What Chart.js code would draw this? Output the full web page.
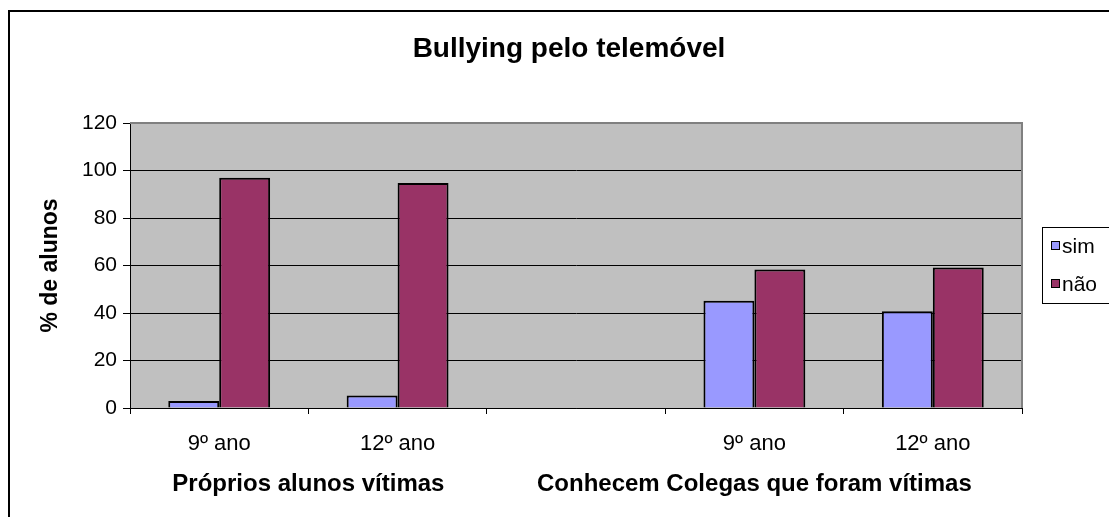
<!DOCTYPE html>
<html>
<head>
<meta charset="utf-8">
<script src="https://cdn.jsdelivr.net/npm/chart.js@4.4.0/dist/chart.umd.min.js"></script>
<style>
  html, body { margin: 0; padding: 0; background: #fff; }
  #wrap { width: 1109px; height: 517px; }
</style>
</head>
<body>
<div id="wrap"><canvas id="barChart" width="1109" height="517"></canvas></div>
<script>
// data
var categories = ['9º ano', '12º ano', '', '9º ano', '12º ano'];
var simValues = [3, 5.3, null, 45.2, 40.7];
var naoValues = [97, 94.7, null, 58.3, 59.2];
var groupNames = ['Próprios alunos vítimas', 'Conhecem Colegas que foram vítimas'];
var groupFrom = [0, 2];
var groupTo = [1, 4];
var yTicks = [0, 20, 40, 60, 80, 100, 120];

var FONT = "'Liberation Sans', Arial, sans-serif";
Chart.defaults.color = '#000';
Chart.defaults.font.family = FONT;

// grey plot, outer frame, group labels, legend box
var excelLook = {
  id: 'excelLook',
  beforeDraw: function(chart) {
    var ctx = chart.ctx, a = chart.chartArea;
    ctx.save();
    ctx.fillStyle = '#fff';
    ctx.fillRect(0, 0, chart.width, chart.height);
    ctx.strokeStyle = '#000';
    ctx.lineWidth = 2;
    ctx.strokeRect(9, 11, 1300, 700);
    ctx.fillStyle = '#c0c0c0';
    ctx.fillRect(a.left, a.top, a.right - a.left, a.bottom - a.top);
    ctx.restore();
  },
  beforeDatasetsDraw: function(chart) {
    var ctx = chart.ctx, a = chart.chartArea;
    ctx.save();
    ctx.strokeStyle = '#808080';
    ctx.lineWidth = 2;
    ctx.beginPath();
    ctx.moveTo(a.left, a.top);
    ctx.lineTo(a.right, a.top);
    ctx.lineTo(a.right, a.bottom);
    ctx.stroke();
    ctx.restore();
  },
  afterDraw: function(chart) {
    var ctx = chart.ctx, x = chart.scales.x;
    ctx.save();
    ctx.fillStyle = '#000';
    ctx.font = 'bold 24px ' + FONT;
    ctx.textAlign = 'center';
    ctx.textBaseline = 'alphabetic';
    for (var i = 0; i < groupNames.length; i++) {
      var cx = (x.getPixelForValue(groupFrom[i]) + x.getPixelForValue(groupTo[i])) / 2;
      ctx.fillText(groupNames[i], cx, 491);
    }
    // legend
    ctx.strokeStyle = '#000';
    ctx.lineWidth = 1;
    ctx.fillStyle = '#fff';
    ctx.fillRect(1042.5, 227.5, 200, 76);
    ctx.strokeRect(1042.5, 227.5, 200, 76);
    ctx.font = '21px ' + FONT;
    ctx.textAlign = 'left';
    ctx.textBaseline = 'middle';
    var ys = [246, 284];
    chart.data.datasets.forEach(function(ds, k) {
      ctx.fillStyle = ds.backgroundColor;
      ctx.fillRect(1051.5, ys[k] - 4.5, 8, 8);
      ctx.strokeRect(1051.5, ys[k] - 4.5, 8, 8);
      ctx.fillStyle = '#000';
      ctx.fillText(ds.label, 1062, ys[k] + 1);
    });
    ctx.restore();
  }
};

var ctxB = document.getElementById('barChart').getContext('2d');
var myBarChart = new Chart(ctxB, {
  type: 'bar',
  data: {
    labels: categories,
    datasets: [
      {
        label: 'sim',
        data: simValues,
        backgroundColor: '#9999FF',
        borderColor: '#000',
        borderWidth: 2,
        categoryPercentage: 0.571,
        barPercentage: 1
      },
      {
        label: 'não',
        data: naoValues,
        backgroundColor: '#993366',
        borderColor: '#000',
        borderWidth: 2,
        categoryPercentage: 0.571,
        barPercentage: 1
      }
    ]
  },
  options: {
    responsive: false,
    animation: false,
    layout: { padding: { left: 29, right: 0, top: 0, bottom: 0 } },
    plugins: {
      legend: { display: false },
      tooltip: { enabled: false },
      title: {
        display: true,
        text: 'Bullying pelo telemóvel',
        color: '#000',
        font: { size: 28, weight: 'bold' },
        padding: { top: 32, bottom: 57.4 }
      }
    },
    scales: {
      x: {
        grid: { offset: true, drawOnChartArea: false, color: '#000', tickLength: 6 },
        border: { color: '#000', width: 1 },
        ticks: { font: { size: 22 }, padding: 17, maxRotation: 0 },
        afterFit: function(s) { s.height = 109; }
      },
      y: {
        min: 0,
        max: 120,
        afterBuildTicks: function(s) { s.ticks = yTicks.map(function(v) { return { value: v }; }); },
        grid: { color: '#000', tickLength: 7 },
        border: { color: '#000', width: 1 },
        ticks: { font: { size: 21 }, padding: 6 },
        title: { display: true, text: '% de alunos', font: { size: 23, weight: 'bold' }, padding: 8 },
        afterFit: function(s) { s.width = 101; }
      },
      yRight: {
        position: 'right',
        grid: { display: false },
        border: { display: false },
        ticks: { display: false },
        afterFit: function(s) { s.width = 87; }
      }
    }
  },
  plugins: [excelLook]
});
</script>
</body>
</html>
